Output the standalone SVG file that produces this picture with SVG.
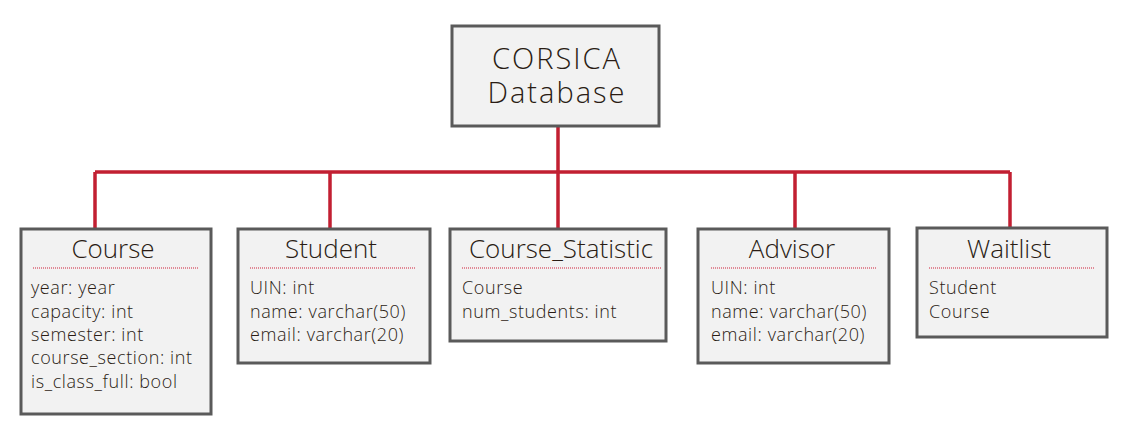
<svg xmlns="http://www.w3.org/2000/svg" width="1131" height="435" viewBox="0 0 1131 435">
<style>
.box{fill:#f2f2f2;stroke:#5a5a5a;stroke-width:3}
.t{font-family:"Open Sans",Lato,sans-serif;fill:#2a1c14;font-weight:300}
.title{font-size:26px;text-anchor:middle}
.main{font-size:29px;text-anchor:middle;letter-spacing:2px}
.body{font-size:18px;letter-spacing:0.6px}
.dot{stroke:#d0203a;stroke-width:1;stroke-dasharray:1 1}
.conn{stroke:#c21f32;stroke-width:3.5;fill:none}
</style>
<rect width="1131" height="435" fill="#ffffff"/>
<g id="connectors">
<path class="conn" d="M558 126V172M95 172H1010M95 172V229M330 172V229M558 172V229M795 172V229M1010 172V229"/>
</g>
<g id="corsica">
<rect class="box" x="452" y="26" width="207" height="100"/>
<text class="t main"><tspan x="557" y="69">CORSICA</tspan><tspan x="557" y="103">Database</tspan></text>
</g>
<g id="course">
<rect class="box" x="21" y="229" width="190" height="185"/>
<text class="t title" x="113" y="258">Course</text>
<line class="dot" x1="33" y1="268" x2="198" y2="268"/>
<text class="t body" x="31" y="294">year: year</text>
<text class="t body" x="31" y="318">capacity: int</text>
<text class="t body" x="31" y="341">semester: int</text>
<text class="t body" x="31" y="364">course_section: int</text>
<text class="t body" x="31" y="388">is_class_full: bool</text>
</g>
<g id="student">
<rect class="box" x="238" y="229" width="192" height="134"/>
<text class="t title" x="331" y="258">Student</text>
<line class="dot" x1="250" y1="268" x2="416" y2="268"/>
<text class="t body" x="250" y="294">UIN: int</text>
<text class="t body" x="250" y="318">name: varchar(50)</text>
<text class="t body" x="250" y="341">email: varchar(20)</text>
</g>
<g id="course_statistic">
<rect class="box" x="450" y="229" width="216" height="112"/>
<text class="t title" x="561" y="258">Course_Statistic</text>
<line class="dot" x1="462" y1="268" x2="662" y2="268"/>
<text class="t body" x="462" y="294">Course</text>
<text class="t body" x="462" y="318">num_students: int</text>
</g>
<g id="advisor">
<rect class="box" x="698" y="229" width="191" height="134"/>
<text class="t title" x="792" y="258">Advisor</text>
<line class="dot" x1="711" y1="268" x2="876" y2="268"/>
<text class="t body" x="711" y="294">UIN: int</text>
<text class="t body" x="711" y="318">name: varchar(50)</text>
<text class="t body" x="711" y="341">email: varchar(20)</text>
</g>
<g id="waitlist">
<rect class="box" x="917" y="228" width="190" height="109"/>
<text class="t title" x="1009" y="258">Waitlist</text>
<line class="dot" x1="929" y1="268" x2="1094" y2="268"/>
<text class="t body" x="929" y="294">Student</text>
<text class="t body" x="929" y="318">Course</text>
</g>
</svg>
